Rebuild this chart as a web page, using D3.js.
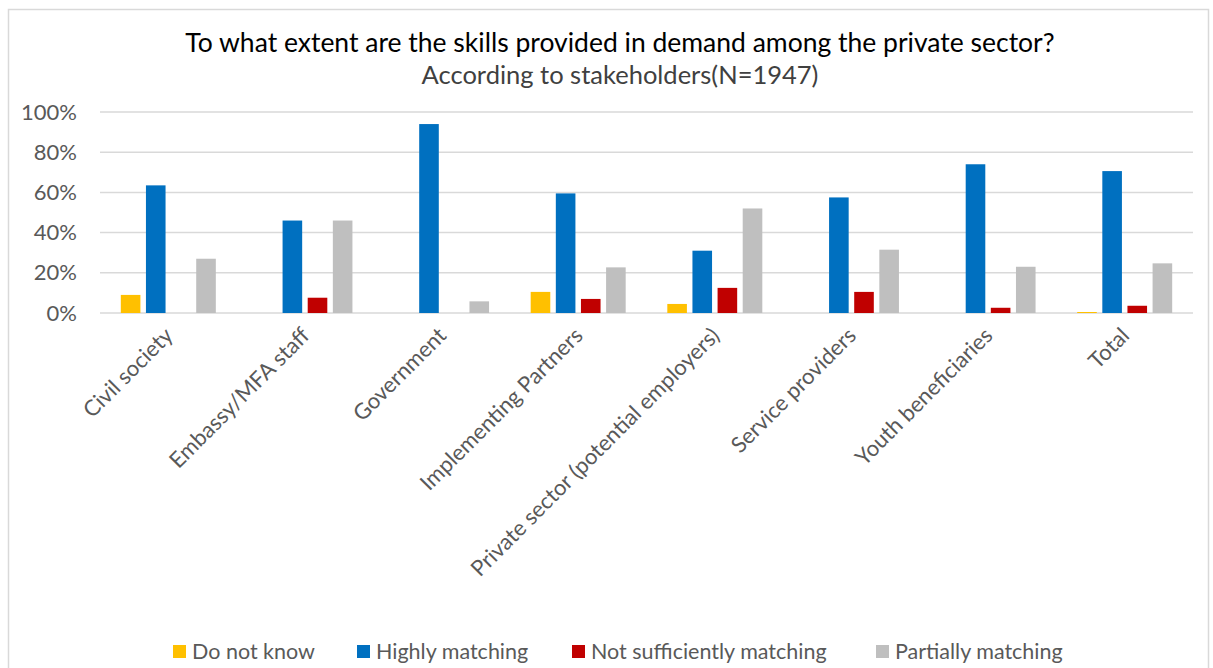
<!DOCTYPE html>
<html><head><meta charset="utf-8">
<script src="https://cdn.jsdelivr.net/npm/d3@7"></script>
<style>body{margin:0;background:#fff;}svg{display:block;font-family:Lato,"Open Sans",sans-serif;}</style>
</head><body>
<svg id="chart" width="1213" height="668"></svg>
<script>
const categories = ["Civil society","Embassy/MFA staff","Government","Implementing Partners","Private sector (potential employers)","Service providers","Youth beneficiaries","Total"];
const seriesNames = ["Do not know","Highly matching","Not sufficiently matching","Partially matching"];
const seriesColors = ["#FFC000","#0070C0","#C00000","#BFBFBF"];
const doNotKnow = [0.09,0,0,0.105,0.045,0,0,0.005];
const highlyMatching = [0.635,0.46,0.94,0.595,0.31,0.575,0.74,0.706];
const notSufficiently = [0,0.076,0,0.07,0.125,0.105,0.026,0.036];
const partiallyMatching = [0.27,0.46,0.058,0.227,0.52,0.315,0.23,0.247];
const yTicks = [0,0.2,0.4,0.6,0.8,1.0];
const seriesValues = [doNotKnow, highlyMatching, notSufficiently, partiallyMatching];

(function(){
const svg = d3.select("#chart");
svg.append("rect").attr("x",8.5).attr("y",9.5).attr("width",1200).attr("height",670)
  .attr("fill","none").attr("stroke","#D9D9D9").attr("stroke-width",1.5);

const pL=100, pR=1193, pT=112, pB=313;
const x0 = d3.scaleBand().domain(categories).range([pL,pR]).paddingInner(0).paddingOuter(0);
const groupW = 95;
const x1 = d3.scaleBand().domain(seriesNames).range([0,groupW]).paddingInner(0.22).paddingOuter(0);
const y = d3.scaleLinear().domain([0,1]).range([pB,pT]);

svg.append("g").selectAll("line").data(yTicks).join("line")
  .attr("x1",pL).attr("x2",pR).attr("y1",d=>y(d)).attr("y2",d=>y(d))
  .attr("stroke","#D9D9D9").attr("stroke-width",1.5);

const yAxis = d3.axisLeft(y).tickValues(yTicks).tickFormat(d3.format(".0%")).tickSize(0).tickPadding(0);
const gy = svg.append("g").attr("transform",`translate(${pL-23},0)`).call(yAxis);
gy.select(".domain").remove();
gy.selectAll("text").attr("fill","#595959").attr("font-size",22).attr("font-family","Lato, sans-serif");

const groups = svg.append("g").selectAll("g").data(categories).join("g")
  .attr("transform",d=>`translate(${x0(d)+(x0.bandwidth()-groupW)/2},0)`);
groups.selectAll("rect").data((c,i)=>seriesNames.map((s,j)=>({s,j,v:seriesValues[j][i]}))).join("rect")
  .attr("x",d=>x1(d.s)).attr("width",x1.bandwidth())
  .attr("y",d=>y(d.v)).attr("height",d=>y(0)-y(d.v))
  .attr("fill",d=>seriesColors[d.j]);

const xAxis = d3.axisBottom(x0).tickSize(0).tickPadding(0);
const gx = svg.append("g").attr("transform",`translate(0,${pB})`).call(xAxis);
gx.select(".domain").remove();
gx.selectAll("text").attr("fill","#595959").attr("font-size",22).attr("font-family","Lato, sans-serif")
  .attr("text-anchor","end").attr("dy",0)
  .attr("transform","translate(6,24) rotate(-45)");

svg.append("text").attr("x",620).attr("y",52).attr("text-anchor","middle")
  .attr("font-size",26.5).attr("fill","#000").text("To what extent are the skills provided in demand among the private sector?");
svg.append("text").attr("x",620).attr("y",84).attr("text-anchor","middle")
  .attr("font-size",25.5).attr("fill","#404040").text("According to stakeholders(N=1947)");

const legendX = [173,357,572,876];
const lg = svg.append("g").selectAll("g").data(seriesNames).join("g")
  .attr("transform",(d,i)=>`translate(${legendX[i]},651)`);
lg.append("rect").attr("x",0).attr("y",-6).attr("width",13).attr("height",13).attr("fill",(d,i)=>seriesColors[i]);
lg.append("text").attr("x",19).attr("y",8).attr("font-size",21.5).attr("fill","#595959").text(d=>d);
})();
</script>
</body></html>
